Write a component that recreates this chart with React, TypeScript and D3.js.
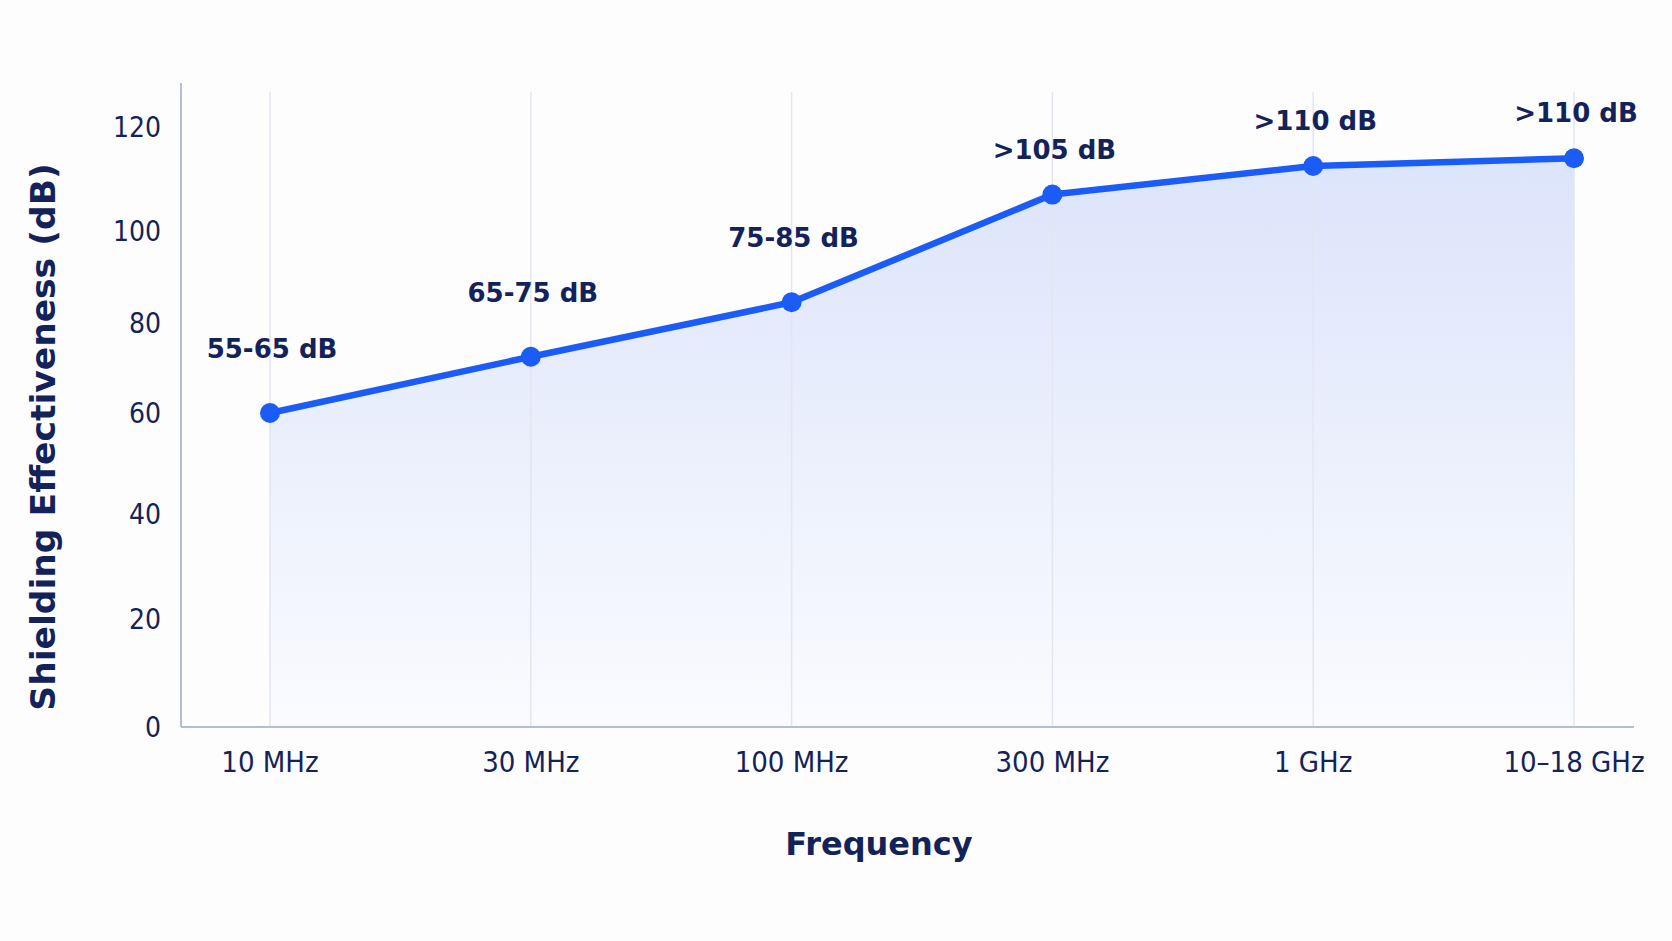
import * as d3 from "d3";

// frequency bands and measured shielding (dB)
const bands = ["10 MHz", "30 MHz", "100 MHz", "300 MHz", "1 GHz", "10–18 GHz"];
const shielding = [60, 72.5, 84.5, 107, 112.5, 114];
const bandLabels = ["55-65 dB", "65-75 dB", "75-85 dB", ">105 dB", ">110 dB", ">110 dB"];
const yTicks = [0, 20, 40, 60, 80, 100, 120];

const W = 1672,
  H = 941,
  axisLeft = 181,
  axisRight = 1634,
  axisBottom = 727,
  axisTop = 83,
  gridTop = 92;

const navy = "#13235a";
const blue = "#1a5cf5";

const App = () => {
  const x = d3.scalePoint<string>().domain(bands).range([270, 1574]).padding(0);
  // the printed axis is not evenly spaced, so map each tick to where it sits
  const y = d3
    .scaleLinear()
    .domain(yTicks)
    .range([727, 619, 514, 413, 323, 231, 127]);

  const pts = bands.map((b, i) => ({ b, v: shielding[i], label: bandLabels[i] }));

  const line = d3
    .line<(typeof pts)[number]>()
    .x((d) => x(d.b)!)
    .y((d) => y(d.v));
  const area = d3
    .area<(typeof pts)[number]>()
    .x((d) => x(d.b)!)
    .y0(axisBottom)
    .y1((d) => y(d.v));

  // labels over the steep part sit a bit higher
  const lift = (i: number) => (i < 3 ? 55 : 36);

  return (
    <svg
      width={W}
      height={H}
      style={{ position: "absolute", left: 0, top: 0, background: "#fdfdfe" }}
    >
      <defs>
        <linearGradient id="fillGrad" x1="0" y1="0" x2="0" y2="1">
          <stop offset="0%" stopColor="#dce4fb" />
          <stop offset="100%" stopColor="#fafbfe" />
        </linearGradient>
      </defs>

      <path d={area(pts)!} fill="url(#fillGrad)" />

      {bands.map((b) => (
        <line
          key={b}
          x1={x(b)}
          x2={x(b)}
          y1={gridTop}
          y2={axisBottom}
          stroke="#e2e6f0"
          strokeWidth={1.5}
        />
      ))}

      <line x1={axisLeft} x2={axisLeft} y1={axisTop} y2={axisBottom} stroke="#b4bdd6" strokeWidth={2} />
      <line x1={axisLeft} x2={axisRight} y1={axisBottom} y2={axisBottom} stroke="#b4bdd6" strokeWidth={2} />

      {yTicks.map((t) => (
        <text
          key={t}
          x={161}
          y={y(t)}
          dy="0.36em"
          textAnchor="end"
          fontFamily="DejaVu Sans Condensed"
          fontSize={28}
          fill={navy}
        >
          {t}
        </text>
      ))}

      {bands.map((b) => (
        <text
          key={b}
          x={x(b)}
          y={772}
          textAnchor="middle"
          fontFamily="DejaVu Sans Condensed"
          fontSize={29}
          fill={navy}
        >
          {b}
        </text>
      ))}

      <path d={line(pts)!} fill="none" stroke={blue} strokeWidth={6.5} strokeLinejoin="round" />

      {pts.map((d) => (
        <circle key={d.b} cx={x(d.b)} cy={y(d.v)} r={10} fill={blue} />
      ))}

      {pts.map((d, i) => (
        <text
          key={"l" + i}
          x={x(d.b)! + 2}
          y={y(d.v) - lift(i)}
          textAnchor="middle"
          fontFamily="DejaVu Sans"
          fontWeight="bold"
          fontSize={26}
          fill={navy}
        >
          {d.label}
        </text>
      ))}

      <text
        x={879}
        y={855}
        textAnchor="middle"
        fontFamily="DejaVu Sans"
        fontWeight="bold"
        fontSize={32}
        fill={navy}
      >
        Frequency
      </text>

      <text
        transform={`translate(55,437) rotate(-90)`}
        textAnchor="middle"
        fontFamily="DejaVu Sans"
        fontWeight="bold"
        fontSize={34.5}
        fill={navy}
      >
        Shielding Effectiveness (dB)
      </text>
    </svg>
  );
};

export default App;
